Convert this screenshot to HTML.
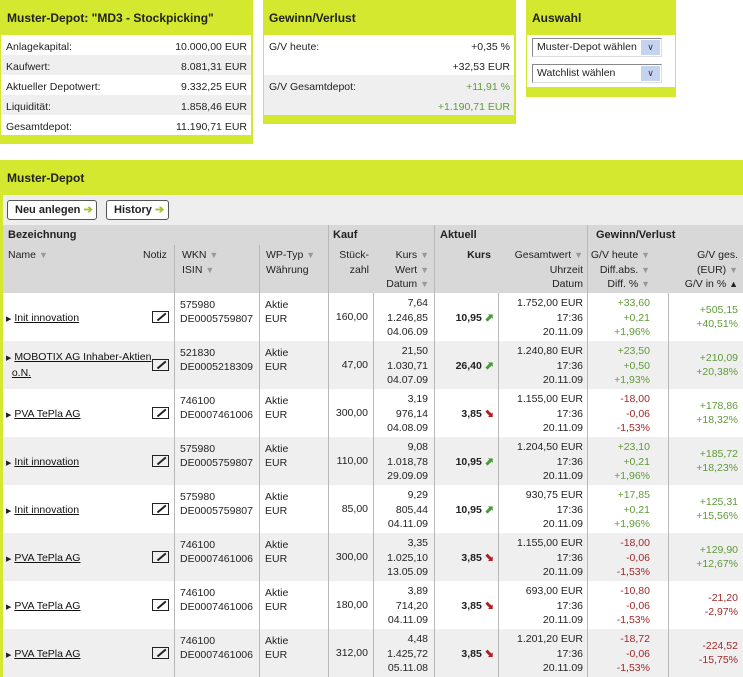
<!DOCTYPE html>
<html><head><meta charset="utf-8"><style>
*{margin:0;padding:0;box-sizing:border-box}
body{width:743px;height:677px;overflow:hidden;background:#fff;font-family:"Liberation Sans",Arial,sans-serif;font-size:10.5px;color:#222;position:relative}
.a{position:absolute;white-space:nowrap}
.g{background:#d3e82e}
.h{font-weight:bold;font-size:12px;color:#222}
.r{text-align:right}
.z{background:#efefef}
.gr{color:#5f9a3a}.rd{color:#a02a2a}
.ln{position:absolute;width:1px;background:#b8b8b8}
.m{line-height:14.5px}
.u{text-decoration:underline;color:#111}
.s{color:#999;font-size:9px}
.btn{position:absolute;top:200px;height:20px;border:1px solid #555;border-radius:3px;background:#fff;font-weight:bold;font-size:11px;line-height:18px;padding-left:7px;color:#222}
.ar{color:#a8c020;font-weight:bold}
.ic{position:absolute;width:17px;height:12px;border:1.5px solid #222;}
.ic:after{content:"";position:absolute;left:3px;top:4px;width:11px;height:1.5px;background:#222;transform:rotate(-40deg)}
.bh{font-weight:bold;font-size:11px}
</style></head><body>
<!-- panel 1 -->
<div class="a g" style="left:0;top:0;width:253px;height:144px"></div>
<div class="a h" style="left:7px;top:11px">Muster-Depot: "MD3 - Stockpicking"</div>
<div class="a" style="left:1px;top:35px;width:250px;height:100px;background:#fff"></div>
<div class="a z" style="left:1px;top:55px;width:250px;height:20px"></div>
<div class="a z" style="left:1px;top:95px;width:250px;height:20px"></div>
<div class="a" style="left:6px;top:37px;line-height:20px">Anlagekapital:<br>Kaufwert:<br>Aktueller Depotwert:<br>Liquidität:<br>Gesamtdepot:</div>
<div class="a r" style="right:496px;top:37px;line-height:20px">10.000,00 EUR<br>8.081,31 EUR<br>9.332,25 EUR<br>1.858,46 EUR<br>11.190,71 EUR</div>
<!-- panel 2 -->
<div class="a g" style="left:263px;top:0;width:253px;height:124px"></div>
<div class="a h" style="left:269px;top:11px">Gewinn/Verlust</div>
<div class="a" style="left:264px;top:35px;width:250px;height:40px;background:#fff"></div>
<div class="a z" style="left:264px;top:75px;width:250px;height:40px"></div>
<div class="a" style="left:269px;top:37px;line-height:20px">G/V heute:<br><br>G/V Gesamtdepot:</div>
<div class="a r" style="right:233px;top:37px;line-height:20px">+0,35 %<br>+32,53 EUR<br><span class="gr">+11,91 %</span><br><span class="gr">+1.190,71 EUR</span></div>
<!-- panel 3 -->
<div class="a g" style="left:526px;top:0;width:150px;height:97px"></div>
<div class="a h" style="left:532px;top:11px">Auswahl</div>
<div class="a" style="left:527px;top:35px;width:148px;height:52px;background:#fff"></div>
<div class="a" style="left:532px;top:38px;width:130px;height:19px;border:1px solid #888;border-right-color:#ddd;border-bottom-color:#ddd;background:#fff;padding:2px 4px;overflow:hidden">Muster-Depot wählen</div>
<div class="a" style="left:641px;top:40px;width:19px;height:15px;background:#c4d4f0;color:#335;font-size:9px;text-align:center;line-height:15px">&#x2228;</div>
<div class="a" style="left:532px;top:64px;width:130px;height:19px;border:1px solid #888;border-right-color:#ddd;border-bottom-color:#ddd;background:#fff;padding:2px 4px">Watchlist wählen</div>
<div class="a" style="left:641px;top:66px;width:19px;height:15px;background:#c4d4f0;color:#335;font-size:9px;text-align:center;line-height:15px">&#x2228;</div>
<!-- table -->
<div class="a g" style="left:0;top:160px;width:743px;height:517px"></div>
<div class="a h" style="left:7px;top:171px">Muster-Depot</div>
<div class="a" style="left:3px;top:195px;width:740px;height:30px;background:#eeeeee"></div>
<div class="btn" style="left:7px;width:90px">Neu anlegen <span class="ar">&#x2794;</span></div>
<div class="btn" style="left:106px;width:63px">History <span class="ar">&#x2794;</span></div>
<div class="a" style="left:3px;top:225px;width:740px;height:68px;background:#d8d8d8"></div>
<div class="a" style="left:3px;top:293px;width:740px;height:384px;background:#fff"></div>
<div class="a z" style="left:3px;top:341px;width:740px;height:48px"></div>
<div class="a z" style="left:3px;top:437px;width:740px;height:48px"></div>
<div class="a z" style="left:3px;top:533px;width:740px;height:48px"></div>
<div class="a z" style="left:3px;top:629px;width:740px;height:48px"></div>
<div class="ln" style="left:174px;top:245px;height:432px"></div>
<div class="ln" style="left:259px;top:245px;height:432px"></div>
<div class="ln" style="left:328px;top:225px;height:452px"></div>
<div class="ln" style="left:373px;top:293px;height:384px"></div>
<div class="ln" style="left:434px;top:225px;height:452px"></div>
<div class="ln" style="left:498px;top:293px;height:384px"></div>
<div class="ln" style="left:587px;top:225px;height:452px"></div>
<div class="ln" style="left:668px;top:293px;height:384px"></div>
<!-- header text -->
<div class="a bh" style="left:8px;top:229px">Bezeichnung</div>
<div class="a bh" style="left:333px;top:229px">Kauf</div>
<div class="a bh" style="left:440px;top:229px">Aktuell</div>
<div class="a bh" style="left:596px;top:229px">Gewinn/Verlust</div>
<div class="a" style="left:8px;top:249px">Name <span class="s">&#x25BC;</span></div>
<div class="a" style="left:143px;top:249px">Notiz</div>
<div class="a m" style="left:182px;top:248px">WKN <span class="s">&#x25BC;</span><br>ISIN <span class="s">&#x25BC;</span></div>
<div class="a m" style="left:266px;top:248px">WP-Typ <span class="s">&#x25BC;</span><br>Währung</div>
<div class="a m r" style="right:374px;top:248px">Stück-<br>zahl</div>
<div class="a m r" style="right:314px;top:248px">Kurs <span class="s">&#x25BC;</span><br>Wert <span class="s">&#x25BC;</span><br>Datum <span class="s">&#x25BC;</span></div>
<div class="a r" style="right:252px;top:249px;font-weight:bold">Kurs</div>
<div class="a m r" style="right:160px;top:248px">Gesamtwert <span class="s">&#x25BC;</span><br>Uhrzeit<br>Datum</div>
<div class="a m r" style="right:93px;top:248px">G/V heute <span class="s">&#x25BC;</span><br>Diff.abs. <span class="s">&#x25BC;</span><br>Diff. % <span class="s">&#x25BC;</span></div>
<div class="a m r" style="right:5px;top:248px">G/V ges.<br>(EUR) <span class="s">&#x25BC;</span><br>G/V in % <span style="font-size:9px;color:#222">&#x25B2;</span></div>

<div id="rows"></div>
<script>
var d=[
["Init innovation","575980","DE0005759807","160,00","7,64","1.246,85","04.06.09","10,95",1,"1.752,00 EUR","+33,60","+0,21","+1,96%","+505,15","+40,51%"],
["MOBOTIX AG Inhaber-Aktien<br>o.N.","521830","DE0005218309","47,00","21,50","1.030,71","04.07.09","26,40",1,"1.240,80 EUR","+23,50","+0,50","+1,93%","+210,09","+20,38%"],
["PVA TePla AG","746100","DE0007461006","300,00","3,19","976,14","04.08.09","3,85",0,"1.155,00 EUR","-18,00","-0,06","-1,53%","+178,86","+18,32%"],
["Init innovation","575980","DE0005759807","110,00","9,08","1.018,78","29.09.09","10,95",1,"1.204,50 EUR","+23,10","+0,21","+1,96%","+185,72","+18,23%"],
["Init innovation","575980","DE0005759807","85,00","9,29","805,44","04.11.09","10,95",1,"930,75 EUR","+17,85","+0,21","+1,96%","+125,31","+15,56%"],
["PVA TePla AG","746100","DE0007461006","300,00","3,35","1.025,10","13.05.09","3,85",0,"1.155,00 EUR","-18,00","-0,06","-1,53%","+129,90","+12,67%"],
["PVA TePla AG","746100","DE0007461006","180,00","3,89","714,20","04.11.09","3,85",0,"693,00 EUR","-10,80","-0,06","-1,53%","-21,20","-2,97%"],
["PVA TePla AG","746100","DE0007461006","312,00","4,48","1.425,72","05.11.08","3,85",0,"1.201,20 EUR","-18,72","-0,06","-1,53%","-224,52","-15,75%"]];
var h="";
d.forEach(function(r,i){var t=293+48*i;var two=r[0].indexOf("<br>")>0;
var c1=r[10][0]=="+"?"gr":"rd",c2=r[13][0]=="+"?"gr":"rd";
h+='<div class="a" style="left:6px;top:'+(t+(two?9:18))+'px;line-height:14px"><span style="font-size:7px">&#x25B6;</span> <span class="u">'+r[0].replace("<br>",'</span><br>&nbsp;&nbsp;<span class="u">')+'</span></div>';
h+='<div class="ic" style="left:152px;top:'+(t+18)+'px"></div>';
h+='<div class="a" style="left:180px;top:'+(t+5)+'px;line-height:14px">'+r[1]+'<br>'+r[2]+'</div>';
h+='<div class="a" style="left:265px;top:'+(t+5)+'px;line-height:14px">Aktie<br>EUR</div>';
h+='<div class="a r" style="right:375px;top:'+(t+18)+'px">'+r[3]+'</div>';
h+='<div class="a r m" style="right:315px;top:'+(t+3)+'px">'+r[4]+'<br>'+r[5]+'<br>'+r[6]+'</div>';
h+='<div class="a r" style="right:249px;top:'+(t+18)+'px"><b>'+r[7]+'</b> <span style="font-size:11px;font-weight:bold;color:'+(r[8]?'#4a9a3a':'#b02020')+'">'+(r[8]?'&#x2B08;':'&#x2B0A;')+'</span></div>';
h+='<div class="a r m" style="right:160px;top:'+(t+3)+'px">'+r[9]+'<br>17:36<br>20.11.09</div>';
h+='<div class="a r m '+c1+'" style="right:93px;top:'+(t+3)+'px">'+r[10]+'<br>'+r[11]+'<br>'+r[12]+'</div>';
h+='<div class="a r '+c2+'" style="right:5px;top:'+(t+10)+'px;line-height:14px">'+r[13]+'<br>'+r[14]+'</div>';});
document.getElementById("rows").innerHTML=h;
</script>
</body></html>
